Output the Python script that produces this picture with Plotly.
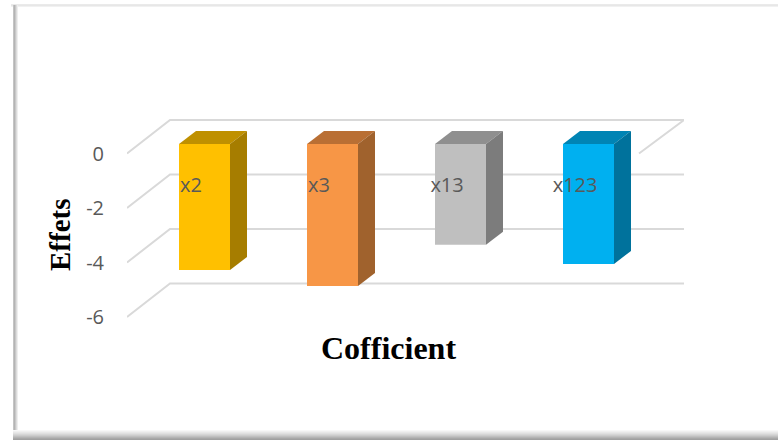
import plotly.graph_objects as go

categories = ["x2", "x3", "x13", "x123"]
values = [-4.62, -5.21, -3.7, -4.4]
y_ticks = [0, -2, -4, -6]
fill_front = ["#FFC000", "#F79646", "#BFBFBF", "#00B0F0"]
fill_top = ["#BF9000", "#B96F34", "#8F8F8F", "#0084B4"]
fill_side = ["#A67D00", "#A0622D", "#7C7C7C", "#00729C"]

W, H = 778, 440
L, R, T, B = 127, 684, 110, 330
PX_X = 128.0
PX_Y = 27.25
X0 = 204.5
Y0_AXIS = 153.5
Y0_BAR = 144.0
BAR_W = 51 / PX_X
BAR_DX = 17 / PX_X
BAR_DY = 13 / PX_Y
FLOOR_DX = 43 / PX_X
FLOOR_DY = 33.5 / PX_Y
GRID = "#D9D9D9"

x_range = [(L - X0) / PX_X, (R - X0) / PX_X]
y_range = [(Y0_AXIS - B) / PX_Y, (Y0_AXIS - T) / PX_Y]
y2_range = [(Y0_BAR - B) / PX_Y, (Y0_BAR - T) / PX_Y]

fig = go.Figure()

# floor / wall grid
xl, xr = x_range
for t in y_ticks:
    xs = [xl, xl + FLOOR_DX, xr]
    ys = [t, t + FLOOR_DY, t + FLOOR_DY]
    if t == y_ticks[0]:
        xs.append(xr - FLOOR_DX - 2 / PX_X)
        ys.append(t)
    fig.add_trace(go.Scatter(x=xs, y=ys, mode="lines", line=dict(color=GRID, width=2),
                             hoverinfo="skip", showlegend=False))

# 3-D faces
for i, v in enumerate(values):
    a, b = i - BAR_W / 2, i + BAR_W / 2
    fig.add_trace(go.Scatter(x=[a, b, b + BAR_DX, a + BAR_DX, a], y=[0, 0, BAR_DY, BAR_DY, 0],
                             yaxis="y2", mode="lines", fill="toself", fillcolor=fill_top[i],
                             line=dict(width=0), hoverinfo="skip", showlegend=False))
    fig.add_trace(go.Scatter(x=[b, b + BAR_DX, b + BAR_DX, b, b], y=[0, BAR_DY, v + BAR_DY, v, 0],
                             yaxis="y2", mode="lines", fill="toself", fillcolor=fill_side[i],
                             line=dict(width=0), hoverinfo="skip", showlegend=False))

fig.add_trace(go.Bar(x=list(range(len(values))), y=values, width=BAR_W, yaxis="y2",
                     marker=dict(color=fill_front, line=dict(width=0)), showlegend=False))

fig.add_trace(go.Scatter(x=[i - 0.105 for i in range(len(categories))], y=[-1.58] * len(categories),
                         yaxis="y2", mode="text", text=categories, textposition="middle center",
                         textfont=dict(family="Open Sans", size=20, color="#595959"),
                         hoverinfo="skip", showlegend=False))

def px(x): return (x - L) / (R - L)
def py(y): return (B - y) / (B - T)

shapes = []
def frame_line(x0, y0, x1, y1, color):
    shapes.append(dict(type="line", xref="paper", yref="paper", x0=px(x0), y0=py(y0), x1=px(x1), y1=py(y1),
                       line=dict(color=color, width=1)))

frame_line(11, 5, W, 5, "#D4D4D4")
frame_line(11, 6, W, 6, "#E4E4E4")
for k, c in enumerate(["#C4C4C4", "#B4B4B4", "#C8C8C8", "#DCDCDC", "#EEEEEE"]):
    frame_line(13.5 + k, 5, 13.5 + k, 432, c)
for k, c in enumerate(["#F8F8F8", "#F0F0F0", "#E8E8E8", "#E0E0E0", "#D6D6D6", "#CCCCCC", "#C0C0C0", "#B4B4B4", "#A8A8A8", "#A0A0A0"]):
    frame_line(13, 430.5 + k, W, 430.5 + k, c)

fig.update_layout(
    width=W, height=H, autosize=False,
    margin=dict(l=L, r=W - R, t=T, b=H - B),
    paper_bgcolor="white", plot_bgcolor="rgba(0,0,0,0)",
    shapes=shapes,
    xaxis=dict(range=x_range, visible=False, fixedrange=True),
    yaxis=dict(range=y_range, tickvals=y_ticks, ticktext=["0", "-2", "-4", "-6"], showgrid=False,
               zeroline=False, showline=False, ticks="outside", ticklen=18, tickcolor="rgba(0,0,0,0)",
               tickfont=dict(family="Open Sans", size=20, color="#595959"), fixedrange=True),
    yaxis2=dict(range=y2_range, overlaying="y", visible=False, fixedrange=True),
    annotations=[
        dict(text="<b>Cofficient</b>", xref="paper", yref="paper", x=px(388), y=py(348), showarrow=False,
             xanchor="center", yanchor="middle",
             font=dict(family="Liberation Serif", size=32, color="black")),
        dict(text="<b>Effets</b>", xref="paper", yref="paper", x=px(60), y=py(235), showarrow=False,
             xanchor="center", yanchor="middle", textangle=-90,
             font=dict(family="Liberation Serif", size=29, color="black")),
    ],
)

fig.write_html("out.html", config={"displayModeBar": False},
               post_script="document.body.style.margin='0';")
